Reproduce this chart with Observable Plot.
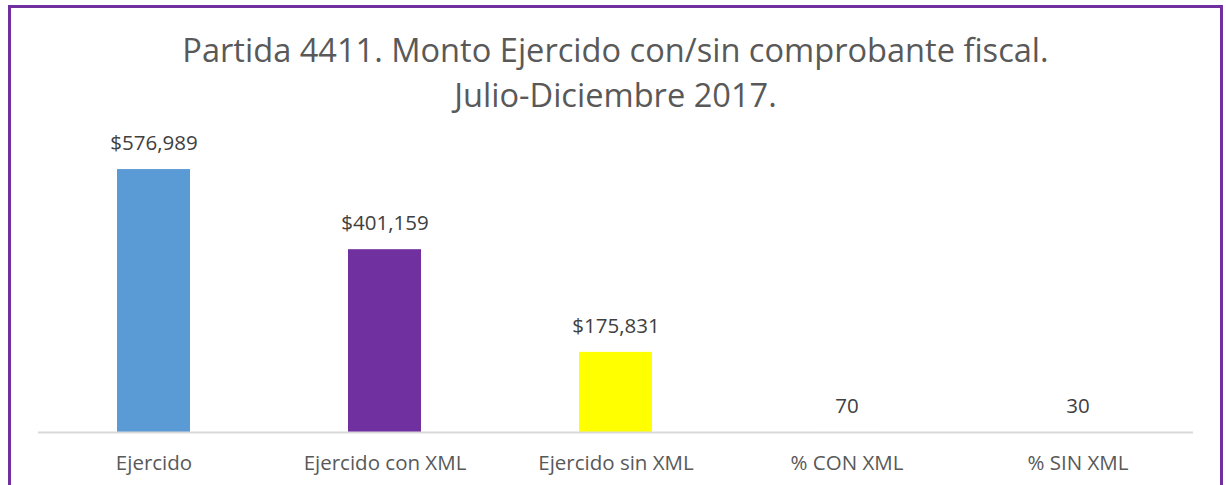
<!DOCTYPE html>
<html>
<head>
<meta charset="utf-8">
<script src="https://cdn.jsdelivr.net/npm/d3@7"></script>
<script src="https://cdn.jsdelivr.net/npm/@observablehq/plot@0.6"></script>
<style>
  html, body { margin: 0; padding: 0; background: #fff; }
  body { width: 1226px; height: 485px; overflow: hidden; font-family: "Open Sans", sans-serif; }
  #frame {
    position: absolute; left: 8px; top: 5px; width: 1215px; height: 500px;
    box-sizing: border-box; border: 3px solid #7030A0; border-bottom: none;
  }
  #title {
    height: 102px; padding-top: 19px; box-sizing: border-box;
    text-align: center; font-size: 32.6px; line-height: 45px; color: #595959;
    white-space: nowrap; overflow: visible;
  }
  #chart { position: relative; }
</style>
</head>
<body>
<div id="frame">
  <div id="title">Partida 4411. Monto Ejercido con/sin comprobante fiscal.<br>Julio-Diciembre 2017.</div>
  <div id="chart"></div>
</div>
<script>
const categories = ["Ejercido", "Ejercido con XML", "Ejercido sin XML", "% CON XML", "% SIN XML"];
const values = [576989, 401159, 175831, 70, 30];
const labels = ["$576,989", "$401,159", "$175,831", "70", "30"];
const colors = ["#5B9BD5", "#7030A0", "#FFFF00", "#A5A5A5", "#A5A5A5"];

const data = categories.map((c, i) => ({category: c, value: values[i], label: labels[i], color: colors[i]}));

const chart = Plot.plot({
  width: 1209,
  height: 375,
  marginTop: 3,
  marginBottom: 53,
  marginLeft: 27,
  marginRight: 27,
  style: {background: "transparent", fontFamily: "Open Sans, sans-serif", color: "#595959"},
  x: {domain: categories, paddingInner: 0.684, paddingOuter: 0.342, label: null},
  y: {domain: [0, 700000], axis: null},
  marks: [
    Plot.barY(data, {x: "category", y: "value", fill: "color"}),
    Plot.ruleY([0], {stroke: "#D9D9D9", strokeWidth: 2}),
    Plot.text(data, {x: "category", y: "value", text: "label", dy: -26, fontSize: 20.5, fill: "#404040"}),
    Plot.axisX({tickSize: 0, tickPadding: 23, fontSize: 20.5, label: null, fill: "#595959"})
  ]
});
document.getElementById("chart").appendChild(chart);
</script>
</body>
</html>
